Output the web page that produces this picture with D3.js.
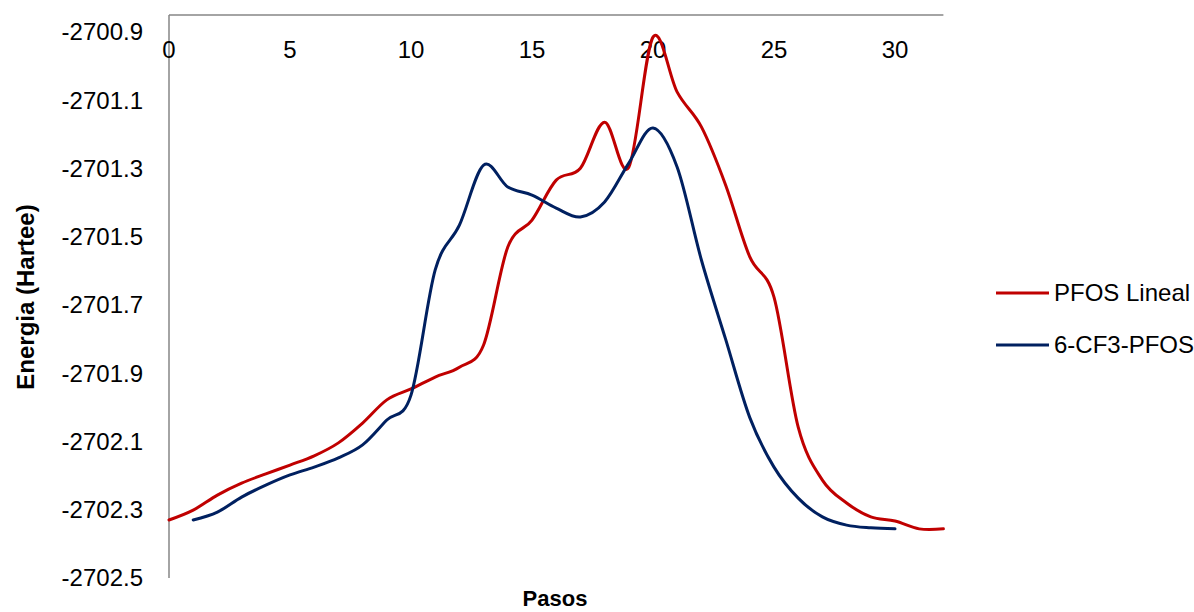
<!DOCTYPE html>
<html>
<head>
<meta charset="utf-8">
<script src="https://cdn.jsdelivr.net/npm/d3@7"></script>
<style>
  body { margin: 0; background: #fff; }
  text { font-family: "Liberation Sans", Arial, sans-serif; fill: #000; }
</style>
</head>
<body>
<svg id="chart" width="1194" height="612"></svg>
<script>
const pasosLineal = d3.range(0, 33);
const pfosLineal = [
  -2702.330, -2702.301, -2702.257, -2702.222, -2702.195, -2702.169, -2702.142, -2702.104,
  -2702.046, -2701.978, -2701.946, -2701.911, -2701.882, -2701.817, -2701.530, -2701.451,
  -2701.334, -2701.299, -2701.164, -2701.296, -2700.915, -2701.076, -2701.178, -2701.348,
  -2701.559, -2701.677, -2702.058, -2702.213, -2702.280, -2702.321, -2702.333, -2702.356,
  -2702.356
];
const pasosCF3 = d3.range(1, 31);
const cf3Pfos = [
  -2702.330, -2702.307, -2702.263, -2702.228, -2702.198, -2702.175, -2702.148, -2702.110,
  -2702.037, -2701.964, -2701.597, -2701.466, -2701.290, -2701.354, -2701.378, -2701.416,
  -2701.442, -2701.398, -2701.284, -2701.181, -2701.296, -2701.568, -2701.800, -2702.030,
  -2702.175, -2702.266, -2702.321, -2702.345, -2702.353, -2702.356
];
const xTicks = [0, 5, 10, 15, 20, 25, 30];
const yTicks = [-2702.5, -2702.3, -2702.1, -2701.9, -2701.7, -2701.5, -2701.3, -2701.1, -2700.9];
const seriesNames = ["PFOS Lineal", "6-CF3-PFOS"];
const seriesColors = ["#C00000", "#002060"];

const svg = d3.select("#chart");
const x = d3.scaleLinear().domain([0, 32]).range([169, 943.4]);
const y = d3.scaleLinear().domain([-2702.5, -2700.85]).range([578, 15]);

// axes lines
const axisColor = "#868686";
svg.append("line").attr("x1", x(0)).attr("x2", x(32)).attr("y1", y(-2700.85)).attr("y2", y(-2700.85))
  .attr("stroke", axisColor).attr("stroke-width", 1.5);
svg.append("line").attr("x1", x(0)).attr("x2", x(0)).attr("y1", y(-2700.85)).attr("y2", y(-2702.5))
  .attr("stroke", axisColor).attr("stroke-width", 1.5);

// x tick labels (below top axis)
svg.append("g").selectAll("text").data(xTicks).join("text")
  .attr("x", d => x(d)).attr("y", 58)
  .attr("text-anchor", "middle").attr("font-size", 24)
  .text(d => d);

// y tick labels
svg.append("g").selectAll("text").data(yTicks).join("text")
  .attr("x", 143).attr("y", d => y(d)).attr("dy", "0.35em")
  .attr("text-anchor", "end").attr("font-size", 24)
  .text(d => d3.format(".1f")(d).replace("−", "-"));

// lines
const line = d3.line().x(d => x(d[0])).y(d => y(d[1])).curve(d3.curveCardinal.tension(0));
const data = [
  pasosLineal.map((p, i) => [p, pfosLineal[i]]),
  pasosCF3.map((p, i) => [p, cf3Pfos[i]])
];
svg.append("g").selectAll("path").data(data).join("path")
  .attr("d", line).attr("fill", "none")
  .attr("stroke", (d, i) => seriesColors[i]).attr("stroke-width", 3)
  .attr("stroke-linecap", "round").attr("stroke-linejoin", "round");

// legend
const legend = svg.append("g");
seriesNames.forEach((name, i) => {
  const ly = 293 + i * 52;
  legend.append("line").attr("x1", 996).attr("x2", 1049).attr("y1", ly).attr("y2", ly)
    .attr("stroke", seriesColors[i]).attr("stroke-width", 3);
  legend.append("text").attr("x", 1054).attr("y", ly).attr("dy", "0.35em")
    .attr("font-size", 24).text(name);
});

// axis titles
svg.append("text").attr("x", 555).attr("y", 606)
  .attr("text-anchor", "middle").attr("font-size", 22).attr("font-weight", "bold").text("Pasos");
svg.append("text").attr("transform", "translate(34,297) rotate(-90)")
  .attr("text-anchor", "middle").attr("font-size", 24).attr("font-weight", "bold").text("Energia (Hartee)");
</script>
</body>
</html>
